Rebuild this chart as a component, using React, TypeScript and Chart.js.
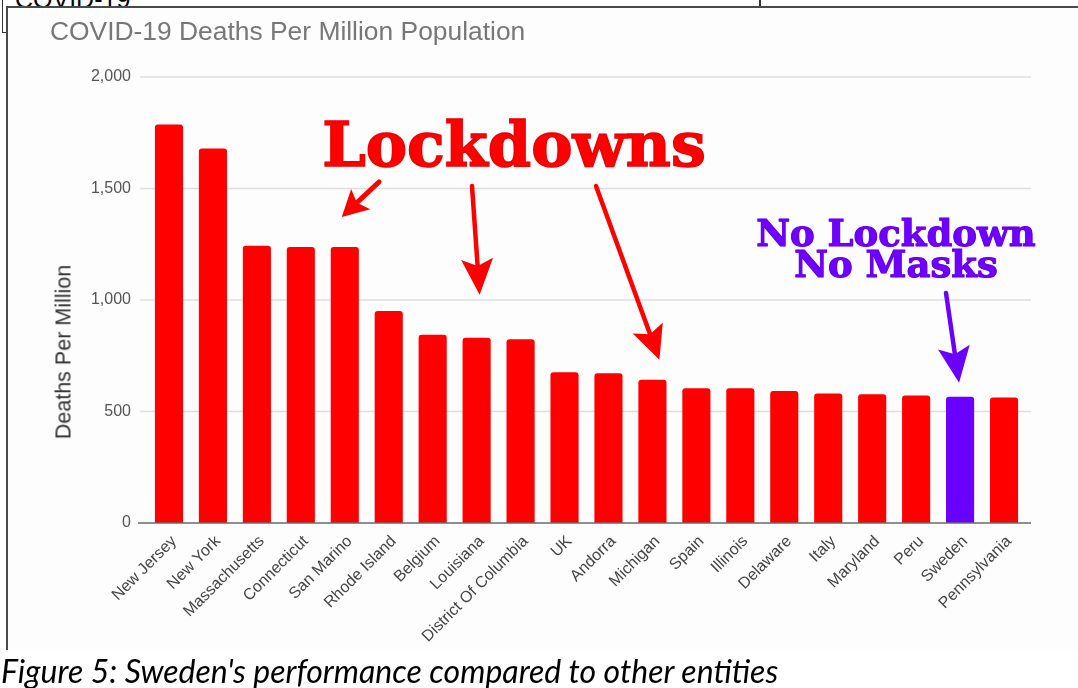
import React, { useEffect, useRef } from "react";
import { Chart, registerables } from "chart.js";

Chart.register(...registerables);

// Deaths per million population, in chart order
const categories = [
  "New Jersey",
  "New York",
  "Massachusetts",
  "Connecticut",
  "San Marino",
  "Rhode Island",
  "Belgium",
  "Louisiana",
  "District Of Columbia",
  "UK",
  "Andorra",
  "Michigan",
  "Spain",
  "Illinois",
  "Delaware",
  "Italy",
  "Maryland",
  "Peru",
  "Sweden",
  "Pennsylvania",
];
const deathsPerMillion = [
  1787, 1679, 1243, 1238, 1238, 951, 844, 831, 824, 676, 672, 642, 604, 604,
  592, 581, 577, 572, 566, 563,
];
const highlighted = "Sweden";
const yTicks = [0, 500, 1000, 1500, 2000];

// Callout arrows: which bar each one points at, and where its tail starts
const arrowTargets = ["San Marino", "Louisiana", "Michigan", "Sweden"];
const arrowTails: [number, number][] = [
  [379, 182],
  [472, 186],
  [596, 186],
  [946, 293],
];

const RED = "#ff0000";
const PURPLE = "#6a00ff";
const FONT = '"Liberation Sans", Arial, Helvetica, sans-serif';
const SLAB = '"DejaVu Serif", "Liberation Serif", serif';
const SOFT = "blur(0.45px)";

// tip offset from bar centre / top, head length, head half-width, shaft width
const arrowShape = [
  { dx: -3, gap: 30, head: 26, half: 14, width: 5 },
  { dx: 3, gap: 43, head: 36, half: 16, width: 4.5 },
  { dx: 7, gap: 20, head: 34, half: 16, width: 4.5 },
  { dx: -1, gap: 14, head: 36, half: 16, width: 4.5 },
];

function drawArrow(
  ctx: CanvasRenderingContext2D,
  x0: number,
  y0: number,
  x1: number,
  y1: number,
  head: number,
  half: number,
  width: number,
  color: string
) {
  const len = Math.hypot(x1 - x0, y1 - y0);
  const ux = (x1 - x0) / len;
  const uy = (y1 - y0) / len;
  const px = -uy;
  const py = ux;
  const bx = x1 - ux * head;
  const by = y1 - uy * head;
  const nx = x1 - ux * head * 0.8;
  const ny = y1 - uy * head * 0.8;
  ctx.save();
  ctx.strokeStyle = color;
  ctx.fillStyle = color;
  ctx.lineWidth = width;
  ctx.lineCap = "round";
  ctx.beginPath();
  ctx.moveTo(x0, y0);
  ctx.lineTo(nx, ny);
  ctx.stroke();
  ctx.beginPath();
  ctx.moveTo(x1, y1);
  ctx.lineTo(bx + px * half, by + py * half);
  ctx.lineTo(nx, ny);
  ctx.lineTo(bx - px * half, by - py * half);
  ctx.closePath();
  ctx.fill();
  ctx.restore();
}

const gridPlugin = {
  id: "gridLines",
  beforeDatasetsDraw(chart: any) {
    const { ctx, chartArea, scales } = chart;
    const y = scales.y;
    ctx.save();
    ctx.strokeStyle = "#dedede";
    ctx.lineWidth = 1.6;
    y.ticks.forEach((t: any) => {
      if (t.value === 0) return;
      const py = y.getPixelForValue(t.value);
      ctx.beginPath();
      ctx.moveTo(chartArea.left - 7, py);
      ctx.lineTo(chartArea.right + 5, py);
      ctx.stroke();
    });
    ctx.restore();
  },
  afterDatasetsDraw(chart: any) {
    const { ctx, chartArea, scales } = chart;
    const py = scales.y.getPixelForValue(0);
    ctx.save();
    ctx.strokeStyle = "#6a6a6a";
    ctx.lineWidth = 1.6;
    ctx.beginPath();
    ctx.moveTo(chartArea.left - 9, py);
    ctx.lineTo(chartArea.right + 5, py);
    ctx.stroke();
    ctx.restore();
  },
};

const arrowPlugin = {
  id: "callouts",
  afterDraw(chart: any) {
    const { ctx, scales } = chart;
    arrowTargets.forEach((name, k) => {
      const i = categories.indexOf(name);
      const s = arrowShape[k];
      const tipX = scales.x.getPixelForValue(i) + s.dx;
      const tipY = scales.y.getPixelForValue(deathsPerMillion[i]) - s.gap;
      const [tx, ty] = arrowTails[k];
      drawArrow(
        ctx,
        tx,
        ty,
        tipX,
        tipY,
        s.head,
        s.half,
        s.width,
        name === highlighted ? PURPLE : RED
      );
    });
  },
};

function DeathsChart() {
  const ref = useRef<HTMLCanvasElement | null>(null);

  useEffect(() => {
    if (!ref.current) return;
    const chart = new Chart(ref.current, {
      type: "bar",
      data: {
        labels: categories,
        datasets: [
          {
            data: deathsPerMillion,
            backgroundColor: categories.map((c) =>
              c === highlighted ? PURPLE : RED
            ),
            borderRadius: 3,
            borderSkipped: "start",
            barPercentage: 0.64,
            categoryPercentage: 1,
          },
        ],
      },
      options: {
        responsive: false,
        animation: false,
        devicePixelRatio: 1,
        layout: { padding: { left: 0, top: 77, right: 52, bottom: 0 } },
        plugins: {
          legend: { display: false },
          tooltip: { enabled: false },
          title: { display: false },
        },
        scales: {
          x: {
            grid: { display: false, drawTicks: false },
            border: { display: false },
            ticks: {
              autoSkip: false,
              maxRotation: 45,
              minRotation: 45,
              padding: 9,
              labelOffset: 5,
              color: "#444",
              font: { family: FONT, size: 16 },
            },
            afterFit(s: any) {
              s.height = 127;
            },
          },
          y: {
            min: 0,
            max: 2000,
            grid: { display: false, drawTicks: false },
            border: { display: false },
            afterBuildTicks(s: any) {
              s.ticks = yTicks.map((v) => ({ value: v }));
            },
            ticks: {
              padding: 16,
              color: "#555",
              font: { family: FONT, size: 16 },
              callback: (v: any) => Number(v).toLocaleString("en-US"),
            },
            afterFit(s: any) {
              s.width = 147;
            },
          },
        },
      },
      plugins: [gridPlugin, arrowPlugin],
    });
    return () => chart.destroy();
  }, []);

  return (
    <canvas
      ref={ref}
      width={1078}
      height={650}
      style={{
        position: "absolute",
        left: 0,
        top: 0,
        width: 1078,
        height: 650,
        filter: SOFT,
      }}
    />
  );
}

export default function App() {
  const abs = (s: React.CSSProperties): React.CSSProperties => ({
    position: "absolute",
    ...s,
  });
  return (
    <div
      style={{
        position: "fixed",
        left: 0,
        top: 0,
        width: 1078,
        height: 688,
        overflow: "hidden",
        background: "#fff",
      }}
    >
      {/* document heading above the figure, mostly covered by it */}
      <div
        style={abs({
          left: 15,
          top: -13,
          font: `25px ${FONT}`,
          lineHeight: "25px",
          color: "#000",
          whiteSpace: "nowrap",
        })}
      >
        COVID-19
      </div>
      <div style={abs({ left: 2, top: 0, width: 1, height: 32, background: "#333" })} />
      <div style={abs({ left: 2, top: 32, width: 5, height: 1, background: "#333" })} />
      <div style={abs({ left: 759, top: 0, width: 1.5, height: 7, background: "#333" })} />

      {/* figure frame */}
      <div
        style={abs({
          left: 6,
          top: 6,
          width: 1072,
          height: 644,
          background: "#fdfdfd",
          borderTop: "2px solid #4a4a4a",
          borderLeft: "2px solid #4a4a4a",
          boxSizing: "border-box",
        })}
      />

      <DeathsChart />

      <div
        style={abs({
          left: 50,
          top: 18,
          font: `26.4px ${FONT}`,
          lineHeight: "26px",
          color: "#777",
          whiteSpace: "nowrap",
          filter: SOFT,
        })}
      >
        COVID-19 Deaths Per Million Population
      </div>

      <div
        style={abs({
          left: 64,
          top: 352,
          font: `21.5px ${FONT}`,
          lineHeight: "21px",
          color: "#333",
          whiteSpace: "nowrap",
          transform: "translate(-50%, -50%) rotate(-90deg)",
          filter: SOFT,
        })}
      >
        Deaths Per Million
      </div>

      <div
        style={abs({
          left: 514,
          top: 114,
          font: `bold 62px ${SLAB}`,
          lineHeight: "62px",
          color: RED,
          whiteSpace: "nowrap",
          transform: "translateX(-50%)",
          WebkitTextStroke: "1.5px #f00000",
          textShadow: "0 0 1px #b00000",
          filter: SOFT,
        })}
      >
        Lockdowns
      </div>

      <div
        style={abs({
          left: 896,
          top: 218,
          font: `bold 37px ${SLAB}`,
          lineHeight: "31px",
          color: "#6f00ff",
          whiteSpace: "nowrap",
          textAlign: "center",
          transform: "translateX(-50%)",
          WebkitTextStroke: "1px #6800f0",
          textShadow: "0 0 1px #4a00b0",
          filter: SOFT,
        })}
      >
        No Lockdown
        <br />
        No Masks
      </div>

      <div
        style={abs({
          left: 1,
          top: 655,
          font: `italic 32px Lato, "Open Sans", sans-serif`,
          lineHeight: "32px",
          color: "#000",
          whiteSpace: "nowrap",
        })}
      >
        Figure 5: Sweden's performance compared to other entities
      </div>
    </div>
  );
}
